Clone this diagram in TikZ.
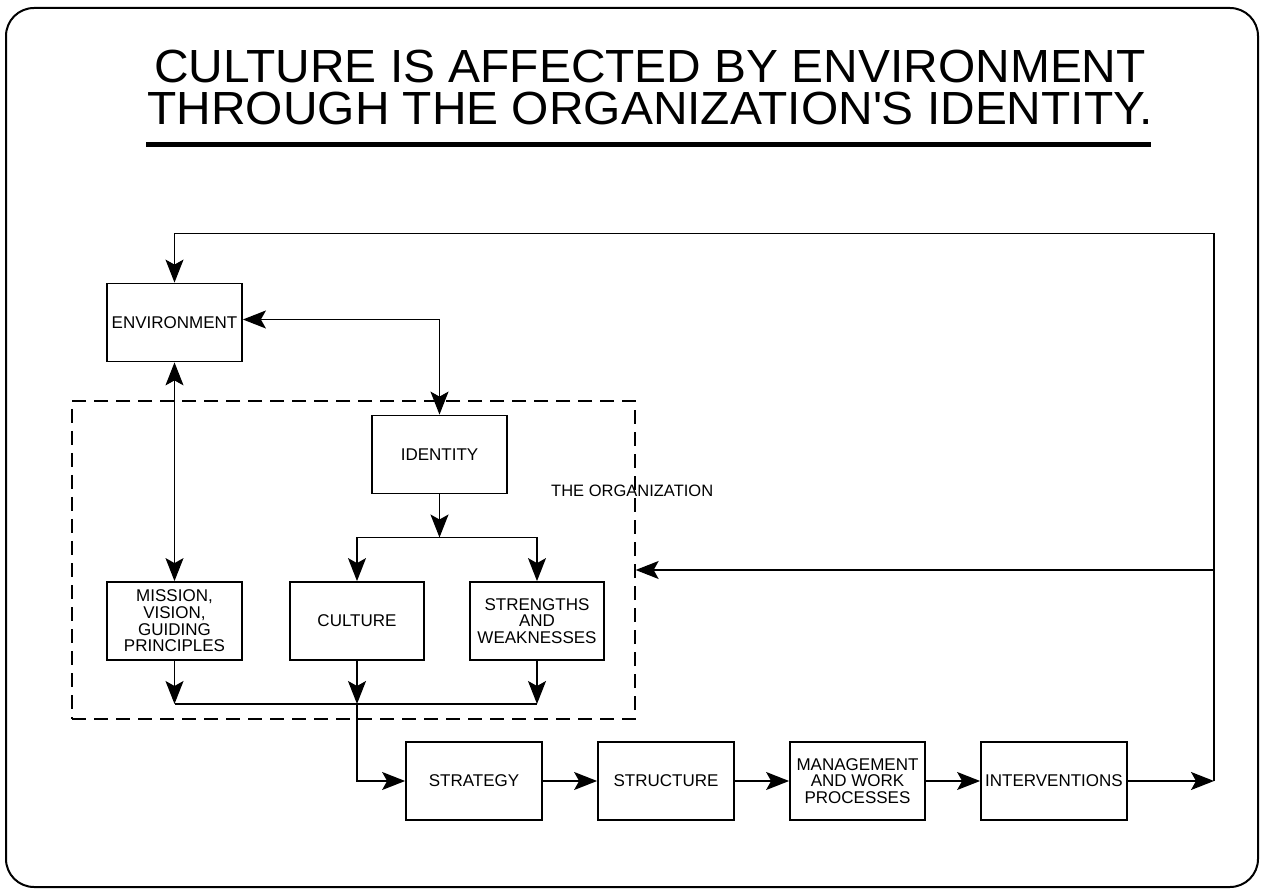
\documentclass[tikz,border=0pt]{standalone}
\usepackage{fontspec}
\setmainfont{Liberation Sans}
\newfontfamily\titlefont{Liberation Sans}[FakeStretch=1.03]
\usetikzlibrary{arrows.meta}
\begin{document}
\begin{tikzpicture}[x=1pt,y=-1pt,
  box/.style={draw, line width=1.8pt, minimum width=135pt, minimum height=78pt, align=center,
    font=\fontsize{17}{16.7}\selectfont, inner sep=0pt},
  conn/.style={line width=1.3pt},
  arr/.style={conn, -{Stealth[length=23pt,width=18pt,inset=5pt]}},
  darr/.style={conn, {Stealth[length=23pt,width=18pt,inset=5pt]}-{Stealth[length=23pt,width=18pt,inset=5pt]}},
  orgbox/.style={draw, line width=1.3pt, dash pattern=on 14pt off 8pt, minimum width=563pt, minimum height=318pt, inner sep=0pt},
  titletext/.style={anchor=base, font=\titlefont\fontsize{46.5}{42}\selectfont},
  label/.style={font=\fontsize{16.5}{16.5}\selectfont, inner sep=0pt}
]
\useasboundingbox (0,0) rectangle (1262,890);
\draw[line width=2pt, rounded corners=28pt] (6,8) rectangle (1258,887);

\node[titletext] (t1) at (650,82.7) {CULTURE IS AFFECTED BY ENVIRONMENT};
\node[titletext] (t2) at (650,125) {THROUGH THE ORGANIZATION\textquotesingle S IDENTITY.};
\draw[line width=5pt] (146,144.3) -- (1151,144.3);

\node[orgbox] (org) at (353.5,560) {};
\node[label, anchor=base west] (orgl) at (551,497) {THE ORGANIZATION};

\node[box] (env) at (174.5,322.5) {ENVIRONMENT};
\node[box] (id) at (439.5,454.5) {IDENTITY};
\node[box] (mis) at (174.5,621) {MISSION,\\VISION,\\GUIDING\\PRINCIPLES};
\node[box, minimum width=134pt] (cul) at (357,621) {CULTURE};
\node[box, minimum width=134pt] (str) at (537,621) {STRENGTHS\\AND\\WEAKNESSES};
\node[box, minimum width=136pt] (stg) at (474,781) {STRATEGY};
\node[box, minimum width=136pt] (stc) at (666,781) {STRUCTURE};
\node[box] (mgt) at (857.5,781) {MANAGEMENT\\AND WORK\\PROCESSES};
\node[box, minimum width=146pt] (int) at (1054,781) {INTERVENTIONS};

\coordinate (fb) at (1214,781);
\coordinate (tr) at (1214,233.5);
\coordinate (fbm) at (1214,570);
\coordinate (ej) at (439.5,319.5);
\coordinate (split) at (439.5,537.5);
\coordinate (join) at (357,704);

\draw[arr] (int.east) -- (fb);
\draw[conn] (fb) -- (tr);
\draw[arr] (tr) -| (env.north);
\draw[arr] (fbm) -- (org.east |- fbm);

\draw[darr] (env.east |- ej) -- (ej) -- (id.north);
\draw[darr] (env.south) -- (mis.north);

\draw[arr] (id.south) -- (split);
\draw[arr] (split) -| (cul.north);
\draw[arr] (split) -| (str.north);

\draw[arr] (mis.south) -- (mis.south |- join);
\draw[arr] (str.south) -- (str.south |- join);
\draw[arr] (cul.south) -- (join);
\draw[conn] (mis.south |- join) -- (str.south |- join);
\draw[arr] (join) |- (stg.west);

\draw[arr] (stg.east) -- (stc.west);
\draw[arr] (stc.east) -- (mgt.west);
\draw[arr] (mgt.east) -- (int.west);
\end{tikzpicture}
\end{document}
